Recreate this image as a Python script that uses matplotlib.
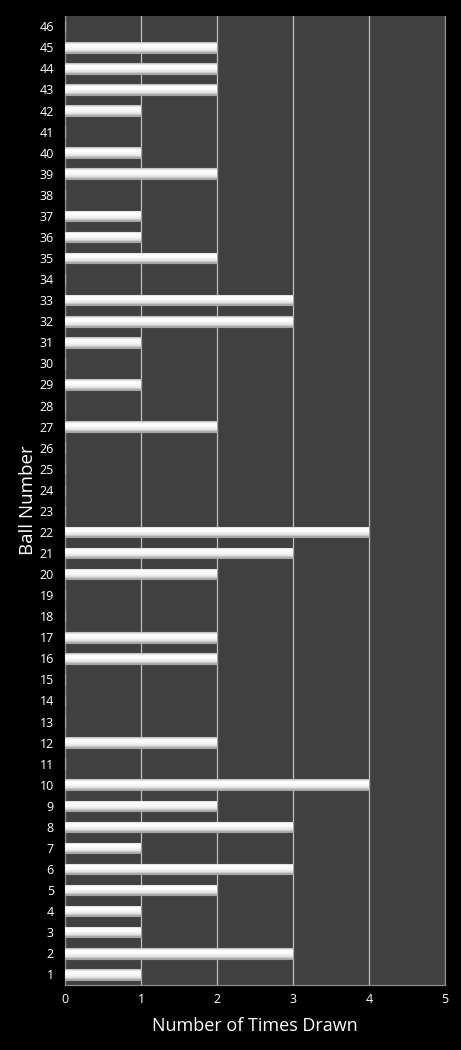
import numpy as np
import matplotlib
matplotlib.use('Agg')
import matplotlib.pyplot as plt
from matplotlib.colors import LinearSegmentedColormap

balls = list(range(1, 47))
times_drawn = [1, 3, 1, 1, 2, 3, 1, 3, 2, 4,
               0, 2, 0, 0, 0, 2, 2, 0, 0, 2,
               3, 4, 0, 0, 0, 0, 2, 0, 1, 0,
               1, 3, 3, 0, 2, 1, 1, 0, 2, 1,
               0, 1, 2, 2, 2, 0]

plt.rcParams['font.family'] = ['Open Sans', 'DejaVu Sans']

fig = plt.figure(figsize=(4.61, 10.5), dpi=100, facecolor='black')
ax = fig.add_axes([0.141, 0.062, 0.824, 0.923])
ax.set_facecolor('#404040')

# glossy gradient for the bars (top -> bottom)
shine = LinearSegmentedColormap.from_list(
    'shine', [(0, '#b4b4b4'), (0.2, '#ffffff'), (0.5, '#fbfbfb'),
              (0.8, '#e2e2e2'), (1, '#a0a0a0')])
grad = np.linspace(0, 1, 64).reshape(-1, 1)

bar_h = 0.5
bars = ax.barh(balls, times_drawn, height=bar_h, color='#eeeeee',
               edgecolor='#a5a5a5', linewidth=0.8, zorder=3)
for b in bars:
    w = b.get_width()
    if w <= 0:
        continue
    y0 = b.get_y()
    im = ax.imshow(grad, cmap=shine, aspect='auto', interpolation='bilinear',
                   extent=[0, w, y0, y0 + bar_h], origin='upper', zorder=4)
    im.set_clip_path(b)

ax.set_xlim(0, 5)
ax.set_ylim(0.5, 46.5)
ax.set_xticks(range(0, 6))
ax.set_yticks(balls)
ax.xaxis.grid(True, color='#bfbfbf', linewidth=0.9, zorder=1)
ax.set_axisbelow(True)

for s in ['left', 'bottom', 'right']:
    ax.spines[s].set_color('#8c8c8c')
    ax.spines[s].set_linewidth(0.9)
ax.spines['top'].set_visible(False)

ax.tick_params(colors='white', labelsize=9, length=0, pad=8)
ax.tick_params(axis='x', pad=6)
ax.set_xlabel('Number of Times Drawn', color='white', fontsize=13, labelpad=8)
ax.set_ylabel('Ball Number', color='white', fontsize=13.5, labelpad=2)

fig.savefig('out.png', dpi=100, facecolor='black')
